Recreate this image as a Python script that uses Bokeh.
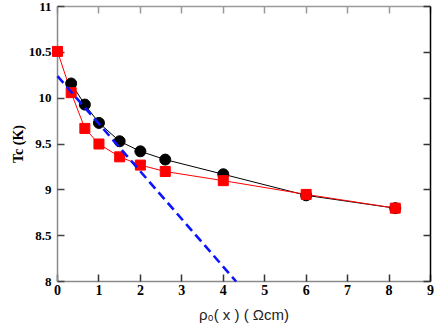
from bokeh.plotting import figure
from bokeh.models import Range1d, LinearAxis, FixedTicker, CustomJSTickFormatter
from bokeh.embed import file_html
from bokeh.resources import INLINE

# ---- data ----
x_black = [0.33, 0.66, 1.0, 1.5, 2.0, 2.6, 4.0, 6.0, 8.15]
tc_black = [10.16, 9.93, 9.73, 9.53, 9.42, 9.33, 9.17, 8.94, 8.80]

x_red = [0.0, 0.33, 0.66, 1.0, 1.5, 2.0, 2.6, 4.0, 6.0, 8.15]
tc_red = [10.51, 10.06, 9.67, 9.50, 9.36, 9.27, 9.20, 9.10, 8.95, 8.80]

x_fit = [0.0, 4.31]
tc_fit = [10.24, 8.0]

x_ticks = [0, 1, 2, 3, 4, 5, 6, 7, 8, 9]
y_ticks = [8, 8.5, 9, 9.5, 10, 10.5, 11]

p = figure(width=436, height=325,
           x_range=Range1d(0, 9), y_range=Range1d(8, 11),
           output_backend="svg", toolbar_location=None,
           min_border_left=57, min_border_right=6,
           min_border_top=6, min_border_bottom=44)
p.outline_line_color = None
p.xgrid.grid_line_color = None
p.ygrid.grid_line_color = None
p.background_fill_color = "white"
p.border_fill_color = "white"

xa = p.xaxis[0]
xa.ticker = FixedTicker(ticks=x_ticks)
xa.axis_line_color = "#8a8a8a"
xa.axis_line_width = 1.5
xa.major_tick_line_color = "#333333"
xa.major_tick_line_width = 1.5
xa.major_tick_in = 7
xa.major_tick_out = 0
xa.minor_tick_line_color = None
xa.major_label_text_font = "Liberation Serif"
xa.major_label_text_font_style = "bold"
xa.major_label_text_font_size = "14px"
xa.major_label_text_color = "black"
xa.major_label_standoff = 3
xa.axis_label = "ρ₀( x ) ( Ωcm)"
xa.axis_label_text_font = "Liberation Sans"
xa.axis_label_text_font_style = "normal"
xa.axis_label_text_font_size = "15px"
xa.axis_label_text_color = "#222222"
xa.axis_label_standoff = 8

ya = p.yaxis[0]
ya.ticker = FixedTicker(ticks=y_ticks)
ya.axis_line_color = "#8a8a8a"
ya.axis_line_width = 1.5
ya.major_tick_line_color = "#444444"
ya.major_tick_line_width = 1.5
ya.major_tick_in = 7
ya.major_tick_out = 0
ya.minor_tick_line_color = None
ya.major_label_text_font = "Liberation Serif"
ya.major_label_text_font_style = "bold"
ya.major_label_text_font_size = "13px"
ya.major_label_text_color = "black"
ya.major_label_standoff = 6
ya.axis_label = "Tc (K)"
ya.axis_label_text_font = "Liberation Serif"
ya.axis_label_text_font_style = "bold"
ya.axis_label_text_font_size = "14px"
ya.axis_label_text_color = "black"
ya.axis_label_standoff = 0

top = LinearAxis(ticker=FixedTicker(ticks=x_ticks),
                 formatter=CustomJSTickFormatter(code="return ''"))
top.axis_line_color = "#9a9a9a"
top.axis_line_width = 1.5
top.major_tick_line_color = "#9a9a9a"
top.major_tick_line_width = 1.5
top.major_tick_in = 7
top.major_tick_out = 0
top.minor_tick_line_color = None
top.major_label_text_font_size = "0px"
top.major_label_standoff = 0
p.add_layout(top, "above")

right = LinearAxis(ticker=FixedTicker(ticks=y_ticks),
                   formatter=CustomJSTickFormatter(code="return ''"))
right.axis_line_color = "black"
right.axis_line_width = 1.5
right.major_tick_line_color = "#333333"
right.major_tick_line_width = 1.5
right.major_tick_in = 7
right.major_tick_out = 0
right.minor_tick_line_color = None
right.major_label_text_font_size = "0px"
right.major_label_standoff = 0
p.add_layout(right, "right")

# black series
p.line(x_black, tc_black, line_color="black", line_width=1)
rb = p.scatter(x_black, tc_black, marker="circle", size=11,
               fill_color="black", line_color="black")
rb.level = "overlay"

# red series
p.line(x_red, tc_red, line_color="red", line_width=1)
rr = p.scatter(x_red, tc_red, marker="square", size=10,
               fill_color="red", line_color="red")
rr.level = "overlay"

# blue dashed fit
rf = p.line(x_fit, tc_fit, line_color="#0a14ff", line_width=2.6, line_dash="9 5")
rf.level = "overlay"

open("out.html", "w").write(file_html(p, INLINE))
